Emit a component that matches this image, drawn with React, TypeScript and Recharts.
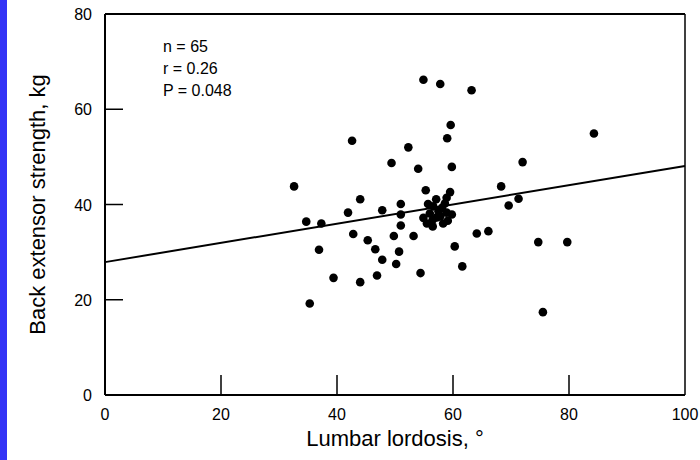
import React from 'react';
import { ScatterChart, Scatter, XAxis, YAxis, ReferenceLine, Label } from 'recharts';

// Lumbar lordosis (degrees) for each subject
const lordosis = [
  54.9, 57.8, 63.2, 59.6, 59.0, 42.6, 52.3, 49.4, 54.0, 59.8,
  72.0, 32.6, 68.3, 55.3, 59.5, 58.9, 44.0, 51.0, 47.8, 41.9,
  69.6, 71.3, 51.0, 34.7, 37.3, 51.0, 42.8, 45.3, 49.8, 53.2,
  36.9, 46.6, 50.7, 47.8, 50.2, 60.3, 64.1, 66.1, 39.4, 44.0,
  46.9, 54.4, 61.6, 35.3, 79.7, 74.7, 75.5, 84.3, 55.7, 56.6,
  58.1, 54.9, 56.5, 56.5, 57.8, 58.9, 59.8, 57.5, 56.0, 58.6,
  57.1, 59.1, 55.5, 58.3, 57.2,
];
// Back extensor strength (kg) for each subject
const strength = [
  66.2, 65.3, 64.0, 56.7, 53.9, 53.4, 52.0, 48.7, 47.5, 47.9,
  48.9, 43.8, 43.8, 43.0, 42.6, 41.4, 41.1, 40.1, 38.8, 38.3,
  39.8, 41.2, 37.9, 36.4, 36.0, 35.6, 33.8, 32.5, 33.4, 33.4,
  30.5, 30.6, 30.1, 28.4, 27.5, 31.2, 33.9, 34.4, 24.6, 23.7,
  25.1, 25.6, 27.0, 19.2, 32.1, 32.1, 17.4, 54.9, 40.1, 39.6,
  39.3, 37.2, 36.8, 35.4, 37.5, 38.3, 37.9, 38.6, 38.1, 40.2,
  41.1, 36.6, 36.0, 36.0, 37.3,
];
const xTicks = [0, 20, 40, 60, 80, 100];
const yTicks = [0, 20, 40, 60, 80];
const fitLine = [
  { x: 0, y: 27.9 },
  { x: 100, y: 48.1 },
];
const statsLines = ['n = 65', 'r = 0.26', 'P = 0.048'];
const xTitle = 'Lumbar lordosis, °';
const yTitle = 'Back extensor strength, kg';

const data = lordosis.map((x, i) => ({ x, y: strength[i] }));

const FONT = '"Liberation Sans", Arial, Helvetica, sans-serif';

const XTick = (props: any) => {
  const { x, y, payload } = props;
  const v = payload.value;
  return (
    <g>
      {v > 0 && v < 100 && (
        <line x1={x} y1={y} x2={x} y2={y - 20} stroke="#000" strokeWidth={1.5} />
      )}
      <text x={x} y={y + 25} textAnchor="middle" fontSize={16} fill="#000" fontFamily={FONT}>
        {v}
      </text>
    </g>
  );
};

const YTick = (props: any) => {
  const { x, y, payload } = props;
  const v = payload.value;
  return (
    <g>
      {v > 0 && v < 80 && (
        <line x1={x} y1={y} x2={x + 18} y2={y} stroke="#000" strokeWidth={1.5} />
      )}
      <text x={x - 13} y={y + 6} textAnchor="end" fontSize={16} fill="#000" fontFamily={FONT}>
        {v}
      </text>
    </g>
  );
};

const XTitle = (props: any) => {
  const vb = props.viewBox || { x: 105, y: 395, width: 580, height: 30 };
  const cx = vb.x + vb.width / 2;
  const cy = vb.y + vb.height + 21;
  return (
    <text x={cx} y={cy} textAnchor="middle" fontSize={22} fill="#000" fontFamily={FONT}>
      {xTitle}
    </text>
  );
};

const YTitle = (props: any) => {
  const vb = props.viewBox || { x: 0, y: 14, width: 105, height: 381 };
  const cx = vb.x + 45;
  const cy = vb.y + vb.height / 2;
  return (
    <text
      x={cx}
      y={cy}
      transform={`rotate(-90 ${cx} ${cy})`}
      textAnchor="middle"
      fontSize={22}
      fill="#000"
      fontFamily={FONT}
    >
      {yTitle}
    </text>
  );
};

const Dot = (props: any) => {
  const { cx, cy } = props;
  return <circle cx={cx} cy={cy} r={4.3} fill="#000" />;
};

export default function App() {
  return (
    <div style={{ position: 'relative', width: 700, height: 460, background: '#fff', overflow: 'hidden' }}>
      <style>{'body{margin:0;}'}</style>
      <div style={{ position: 'absolute', left: 0, top: 0, width: 7, height: 460, background: '#3434f6' }} />
      <ScatterChart width={700} height={460} margin={{ top: 14, right: 15, bottom: 35, left: 0 }}>
        <XAxis
          type="number"
          dataKey="x"
          domain={[0, 100]}
          ticks={xTicks}
          interval={0}
          height={30}
          tickSize={0}
          tickMargin={0}
          tickLine={false}
          axisLine={{ stroke: '#000', strokeWidth: 2 }}
          tick={<XTick />}
        >
          <Label content={<XTitle />} />
        </XAxis>
        <YAxis
          type="number"
          dataKey="y"
          domain={[0, 80]}
          ticks={yTicks}
          interval={0}
          width={105}
          tickSize={0}
          tickMargin={0}
          tickLine={false}
          axisLine={{ stroke: '#000', strokeWidth: 2 }}
          tick={<YTick />}
        >
          <Label content={<YTitle />} />
        </YAxis>
        <ReferenceLine y={80} stroke="#000" strokeWidth={2} />
        <ReferenceLine x={100} stroke="#000" strokeWidth={1.5} />
        <ReferenceLine segment={fitLine} stroke="#000" strokeWidth={2} />
        <Scatter data={data} shape={<Dot />} isAnimationActive={false} />
      </ScatterChart>
      <div
        style={{
          position: 'absolute',
          left: 163,
          top: 36,
          fontFamily: FONT,
          fontSize: 16,
          lineHeight: '22px',
          color: '#000',
        }}
      >
        {statsLines.map((s) => (
          <div key={s}>{s}</div>
        ))}
      </div>
    </div>
  );
}
